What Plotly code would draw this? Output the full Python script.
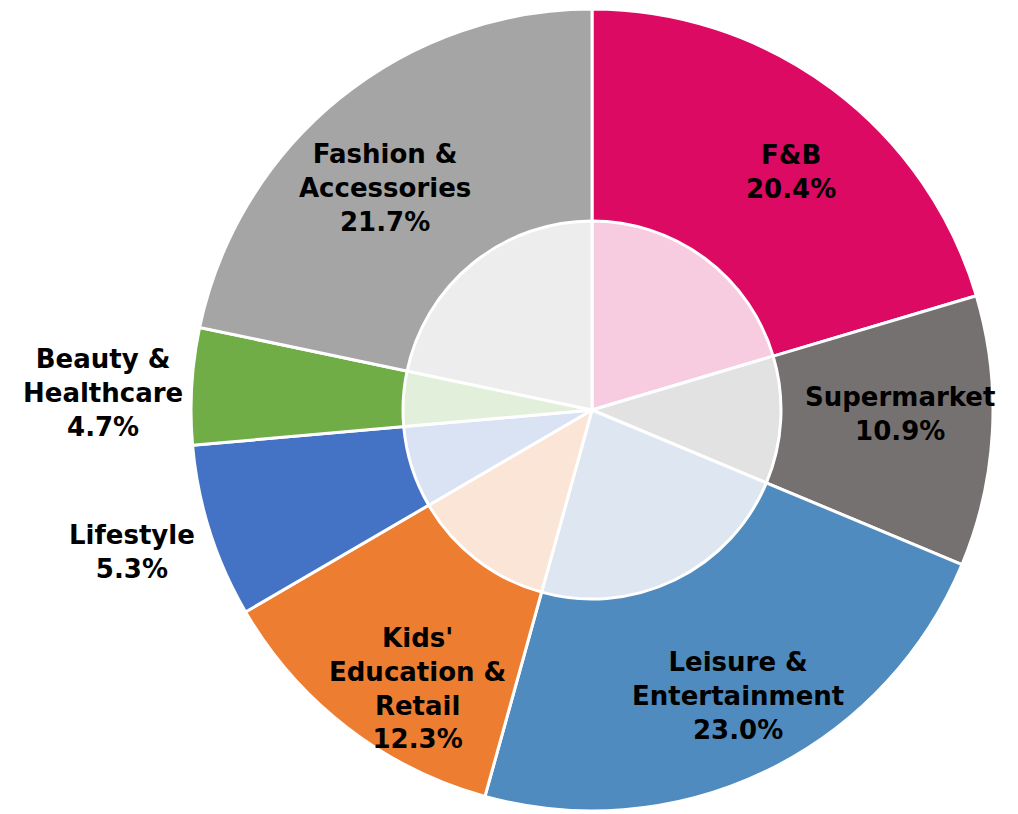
import plotly.graph_objects as go

# Data
categories = ["F&B", "Supermarket", "Leisure & Entertainment", "Kids' Education & Retail",
              "Lifestyle", "Beauty & Healthcare", "Fashion & Accessories"]
label_lines = ["F&B", "Supermarket", "Leisure &<br>Entertainment", "Kids'<br>Education &<br>Retail",
               "Lifestyle", "Beauty &<br>Healthcare", "Fashion &<br>Accessories"]
display_pct = ["20.4%", "10.9%", "23.0%", "12.3%", "5.3%", "4.7%", "21.7%"]
# slice shares as drawn (Lifestyle slice drawn wider than its label)
slice_values = [20.4, 10.9, 23.0, 12.3, 7.0, 4.7, 21.7]

outer_colors = ["#DC0A62", "#767171", "#4F8BBE", "#ED7D31", "#4472C4", "#70AD47", "#A5A5A5"]
inner_colors = ["#F8CCE0", "#E2E2E2", "#DEE7F1", "#FBE5D6", "#DAE3F3", "#E2EFDA", "#EDEDED"]

W, H = 1018, 814
OFF = 8  # page body margin
cx, cy_top = 592 - OFF, 410 - OFF
R_out, R_in = 401, 189
cy = H - cy_top

def dom(r):
    return dict(x=[(cx - r) / W, (cx + r) / W], y=[max(0, (cy - r) / H), (cy + r) / H])

fig = go.Figure()
fig.add_trace(go.Pie(
    labels=categories, values=slice_values, sort=False, direction="clockwise", rotation=0,
    marker=dict(colors=outer_colors, line=dict(color="white", width=3)),
    textinfo="none", hoverinfo="label+percent", domain=dom(R_out), showlegend=False,
))
fig.add_trace(go.Pie(
    labels=categories, values=slice_values, sort=False, direction="clockwise", rotation=0,
    marker=dict(colors=inner_colors, line=dict(color="white", width=3)),
    textinfo="none", hoverinfo="skip", domain=dom(R_in), showlegend=False,
))

# label centres (pixels in screenshot, from top-left)
label_pos = [(791, 172), (900, 414), (738, 696), (417, 688), (132, 552), (103, 393), (385, 188)]

annotations = []
for txt, pct, (px, py) in zip(label_lines, display_pct, label_pos):
    annotations.append(dict(
        x=(px - OFF) / W, y=1 - (py - OFF) / H, xref="paper", yref="paper", showarrow=False,
        text=f"<b>{txt}<br>{pct}</b>", align="center", xanchor="center", yanchor="middle",
        font=dict(family="DejaVu Sans", size=26, color="black"),
    ))

fig.update_layout(
    width=W, height=H, margin=dict(l=0, r=0, t=0, b=0),
    paper_bgcolor="white", plot_bgcolor="white", annotations=annotations,
)
fig.write_html("out.html")
